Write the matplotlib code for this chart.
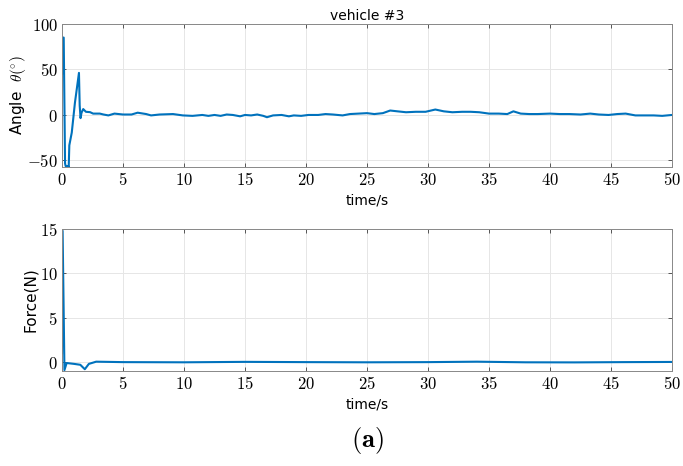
import numpy as np
import matplotlib
matplotlib.use("Agg")
import matplotlib.pyplot as plt
from matplotlib.ticker import FuncFormatter

# angle waypoints (s, deg)
ANG_T = [0.0, 0.05, 0.14, 0.25, 0.3, 0.5, 0.55, 0.6, 0.8, 1.06, 1.39, 1.45, 1.52, 1.6, 1.74,
         1.96, 2.3, 2.55, 3.1, 3.4, 3.8, 4.3, 5.0, 5.7, 6.2, 6.9, 7.3, 8.0, 9.1, 9.9, 10.7,
         11.5, 12.0, 12.5, 13.0, 13.5, 14.0, 14.6, 15.0, 15.5, 16.0, 16.5, 16.8, 17.3, 18.0,
         18.6, 19.0, 19.6, 20.2, 21.0, 21.6, 22.2, 23.0, 23.6, 24.3, 25.0, 25.6, 26.3, 26.9,
         27.5, 28.2, 29.0, 29.8, 30.6, 31.3, 32.0, 32.8, 33.5, 34.2, 35.0, 35.8, 36.5, 37.0,
         37.6, 38.3, 39.0, 40.0, 40.8, 41.6, 42.5, 43.3, 44.0, 44.8, 45.5, 46.2, 47.0, 47.8,
         48.5, 49.2, 50.0]
ANG_V = [45, 85, 85, -54, -57, -57, -58, -34, -20, 13, 46, 10, -4, 2, 6,
         3, 2.6, 1, 1, 0, -1, 1, 0, 0, 2, 0.5, -1, 0, 0.5, -1, -1.5,
         -0.5, -1.5, -0.5, -1.5, 0, -0.5, -2, -0.5, -1, 0, -1.5, -3, -1, -0.5,
         -2, -1, -1.5, -0.5, -0.5, 0.5, 0, -1, 0.5, 1, 1.5, 0.5, 1.5, 4.4,
         3.5, 2.5, 3, 3, 5.5, 3.5, 2.5, 3, 3, 2.5, 1, 1, 0.5, 3.5,
         1, 0.5, 0.5, 1, 0.5, 0.5, 0, 1, 0, -0.5, 0.5, 1, -1, -1,
         -1, -1.5, -0.5]

# force waypoints (s, N)
F_T = [0.0, 0.05, 0.2, 0.38, 1.0, 1.5, 1.87, 2.2, 2.8, 5.0, 10.0, 15.0, 20.0, 25.0,
       30.0, 34.0, 38.0, 42.0, 46.0, 50.0]
F_V = [1.0, 14.8, -0.9, -0.1, -0.2, -0.3, -0.8, -0.2, 0.05, 0.0, -0.02, 0.03, 0.0, -0.02,
       0.0, 0.05, -0.02, -0.03, 0.0, 0.02]

LINE = "#0072BD"

plt.rcParams["mathtext.fontset"] = "cm"
plt.rcParams["font.family"] = "DejaVu Sans"

fig = plt.figure(figsize=(6.83, 4.66), dpi=100)
ax1 = fig.add_axes([62 / 683, 1 - 167 / 466, 610 / 683, 143 / 466])
ax2 = fig.add_axes([62 / 683, 1 - 371 / 466, 610 / 683, 142 / 466])

ax1.plot(ANG_T, ANG_V, color=LINE, lw=1.5)
ax1.set_ylim(-58, 100)
ax1.set_yticks([-50, 0, 50, 100])
ax1.set_ylabel(r"Angle  $\theta(^{\circ})$", fontsize=11)
ax1.yaxis.set_label_coords(-0.055, 0.5)
ax1.set_title("vehicle #3", fontsize=10, pad=3)

ax2.plot(F_T, F_V, color=LINE, lw=1.5)
ax2.set_ylim(-1, 15)
ax2.set_yticks([0, 5, 10, 15])
ax2.set_ylabel("Force(N)", fontsize=11)
ax2.yaxis.set_label_coords(-0.04, 0.5)

fmt = FuncFormatter(lambda v, p: f"${v:g}$")
for ax in (ax1, ax2):
    ax.set_xlim(0, 50)
    ax.set_xticks(np.arange(0, 51, 5))
    ax.xaxis.set_major_formatter(fmt)
    ax.yaxis.set_major_formatter(fmt)
    ax.set_xlabel("time/s", fontsize=10, labelpad=3)
    ax.grid(True, color="#e6e6e6", lw=0.7)
    ax.set_axisbelow(True)
    ax.tick_params(direction="in", length=3, top=True, right=True, labelsize=12,
                   color="#555555", width=0.7, pad=3)
    for s in ax.spines.values():
        s.set_color("#888888")
        s.set_linewidth(0.7)

fig.text(367 / 683, 1 - 440 / 466, r"$\mathbf{(a)}$", ha="center", va="center", fontsize=19)

fig.savefig("out.png", dpi=100)
